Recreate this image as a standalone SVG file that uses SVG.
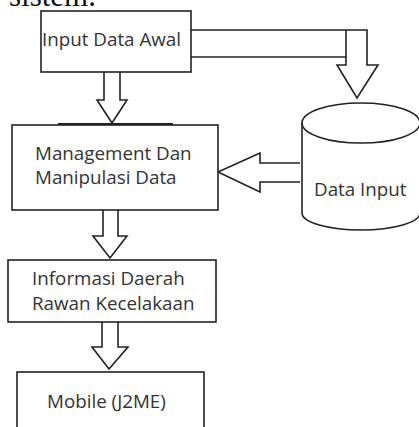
<svg xmlns="http://www.w3.org/2000/svg" width="419" height="427" viewBox="0 0 419 427">
<style>
.box{fill:#fff;stroke:#222;stroke-width:1.6}
.arr{fill:#fff;stroke:#222;stroke-width:1.6;stroke-linejoin:miter}
.t{font-family:"Open Sans","Noto Sans",sans-serif;font-size:18.8px;fill:#333}
</style>
<rect width="419" height="427" fill="#fff"/>
<text x="9" y="6" font-family="Liberation Serif,serif" font-size="31" fill="#111">sistem.</text>
<g id="connectors">
<path class="arr" d="M191,30 H367 V65 H378 L357,98 L337,65 H346 V57 H191"/>
<line x1="346" y1="30" x2="346" y2="57" stroke="#222" stroke-width="1.6"/>
<path class="arr" d="M104,72 V100 H97 L112,123 L127,100 H120 V72"/>
<path class="arr" d="M300,163 H260 V153 L218,172 L260,192 V182 H300"/>
<path class="arr" d="M103,210 V236 H93 L110,258 L127,236 H118 V210"/>
<path class="arr" d="M102,322 V347 H92 L109,369 L128,347 H118 V322"/>
</g>
<g id="input-data-awal">
<rect class="box" x="41" y="11" width="150" height="61"/>
<text class="t" x="42" y="46">Input Data Awal</text>
</g>
<g id="management">
<rect class="box" x="12" y="125" width="206" height="85"/>
<line x1="58" y1="124" x2="173" y2="124" stroke="#222" stroke-width="2"/>
<text class="t" x="35" y="160">Management Dan</text>
<text class="t" x="35" y="184">Manipulasi Data</text>
</g>
<g id="data-input">
<path class="box" d="M302,123 V213 A59,17 0 0 0 420,213 V123"/>
<ellipse class="box" cx="361" cy="123" rx="59" ry="20"/>
<text class="t" x="314" y="196">Data Input</text>
</g>
<g id="informasi">
<rect class="box" x="8" y="260" width="208" height="62"/>
<text class="t" x="32" y="285">Informasi Daerah</text>
<text class="t" x="32" y="310">Rawan Kecelakaan</text>
</g>
<g id="mobile">
<rect class="box" x="17" y="372" width="187" height="70"/>
<text class="t" x="47" y="408">Mobile (J2ME)</text>
</g>
</svg>
